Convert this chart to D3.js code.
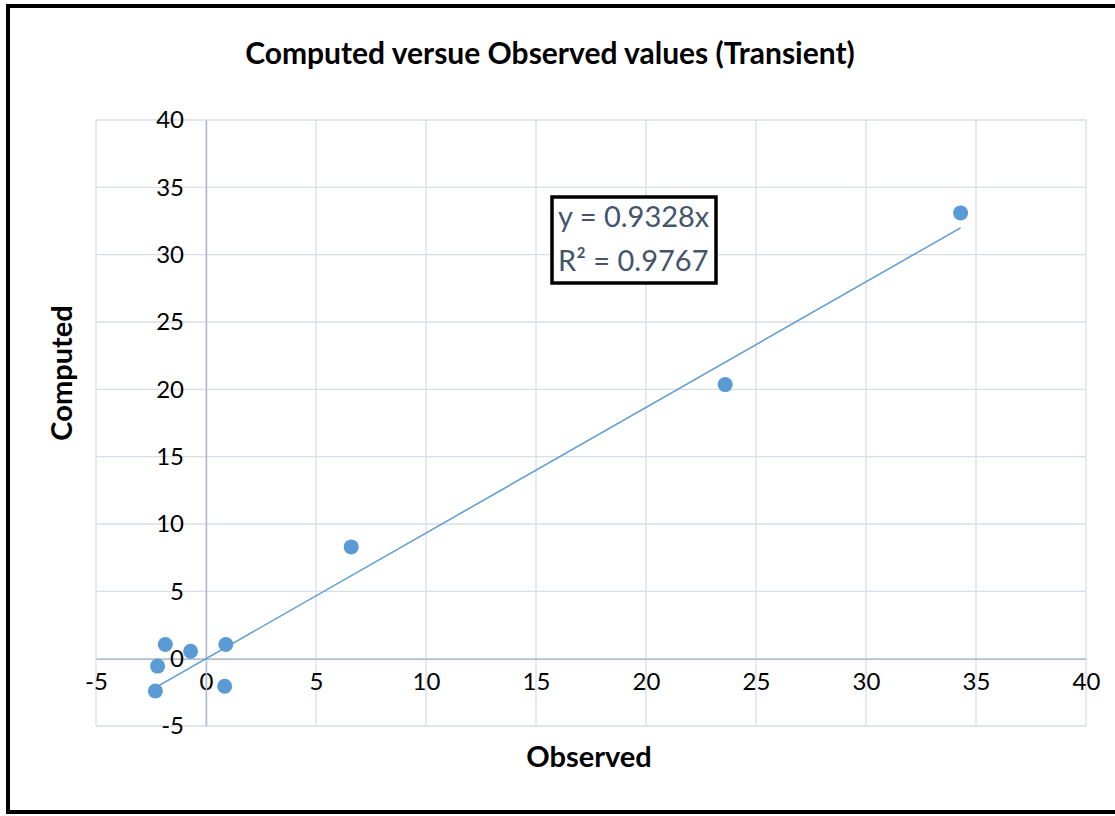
<!DOCTYPE html>
<html><head><meta charset="utf-8">
<script src="https://cdn.jsdelivr.net/npm/d3@7"></script>
<style>body{margin:0;background:#fff}</style>
</head><body>
<svg id="c" width="1115" height="816"></svg>
<script>
const observed = [34.3, 23.6, 6.6, 0.9, 0.85, -0.7, -1.85, -2.2, -2.3];
const computed = [33.1, 20.35, 8.3, 1.05, -2.05, 0.55, 1.05, -0.55, -2.4];
const xTicks = [-5, 0, 5, 10, 15, 20, 25, 30, 35, 40];
const yTicks = [-5, 0, 5, 10, 15, 20, 25, 30, 35, 40];
const slope = 0.9328;
const eqLines = ["y = 0.9328x", "R² = 0.9767"];
const title = "Computed versue Observed values (Transient)";
const xTitle = "Observed", yTitle = "Computed";

const svg = d3.select("#c");
const font = "Lato, 'Open Sans', sans-serif";
const x = d3.scaleLinear().domain([-5, 40]).range([96, 1086]);
const y = d3.scaleLinear().domain([-5, 40]).range([726, 120]);

// outer frame
svg.append("rect").attr("x", 8).attr("y", 6).attr("width", 1115).attr("height", 806)
  .attr("fill", "#fff").attr("stroke", "#000").attr("stroke-width", 4);

// grid
const grid = svg.append("g");
grid.selectAll("line.v").data(xTicks).join("line")
  .attr("x1", d => x(d)).attr("x2", d => x(d)).attr("y1", y(40)).attr("y2", y(-5))
  .attr("stroke", "#d9dde6").attr("stroke-width", 1.3);
grid.selectAll("line.h").data(yTicks).join("line")
  .attr("y1", d => y(d)).attr("y2", d => y(d)).attr("x1", x(-5)).attr("x2", x(40))
  .attr("stroke", "#d9dde6").attr("stroke-width", 1.3);

// axes at zero
const fmt = d => String(d);
const xAxis = d3.axisBottom(x).tickValues(xTicks).tickSize(0).tickPadding(14).tickFormat(fmt);
const gx = svg.append("g").attr("transform", `translate(0,${y(0)})`).call(xAxis);
gx.select(".domain").attr("stroke", "#b4bdcf").attr("stroke-width", 1.5);
gx.selectAll("text").attr("font-family", font).attr("font-size", 24).attr("fill", "#000");

const yAxis = d3.axisLeft(y).tickValues(yTicks).tickSize(0).tickPadding(22).tickFormat(fmt);
const gy = svg.append("g").attr("transform", `translate(${x(0)},0)`).call(yAxis);
gy.select(".domain").attr("stroke", "#b4bdcf").attr("stroke-width", 1.5);
gy.selectAll("text").attr("font-family", font).attr("font-size", 24).attr("fill", "#000");

// trendline
const xmin = d3.min(observed), xmax = d3.max(observed);
svg.append("line").attr("x1", x(xmin)).attr("y1", y(slope * xmin))
  .attr("x2", x(xmax)).attr("y2", y(slope * xmax))
  .attr("stroke", "#5b9bd5").attr("stroke-width", 1.5);

// points
svg.selectAll("circle.p").data(observed.map((o, i) => [o, computed[i]])).join("circle")
  .attr("cx", d => x(d[0])).attr("cy", d => y(d[1])).attr("r", 7.5)
  .attr("fill", "#5b9bd5");

// equation box
svg.append("rect").attr("x", 552).attr("y", 197).attr("width", 164).attr("height", 86)
  .attr("fill", "#fff").attr("stroke", "#000").attr("stroke-width", 3.5);
svg.selectAll("text.eq").data(eqLines).join("text")
  .attr("x", 558).attr("y", (d, i) => 227 + i * 44)
  .attr("font-family", font).attr("font-size", 29).attr("fill", "#44546a").text(d => d);

// titles
svg.append("text").attr("x", 550).attr("y", 64).attr("text-anchor", "middle")
  .attr("font-family", font).attr("font-weight", "bold").attr("font-size", 30).text(title);
svg.append("text").attr("x", 589).attr("y", 767).attr("text-anchor", "middle")
  .attr("font-family", font).attr("font-weight", "bold").attr("font-size", 29).text(xTitle);
svg.append("text").attr("transform", "translate(72,373) rotate(-90)").attr("text-anchor", "middle")
  .attr("font-family", font).attr("font-weight", "bold").attr("font-size", 29).text(yTitle);
</script>
</body></html>
